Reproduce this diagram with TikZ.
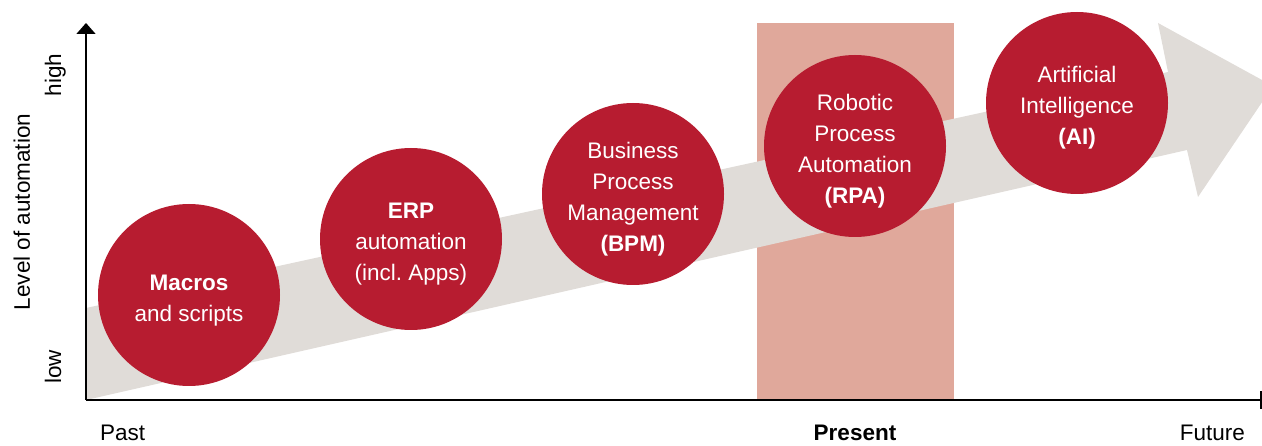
\documentclass[tikz,border=0pt]{standalone}
\usepackage{fontspec}
\setmainfont{Liberation Sans}
\usepackage{xcolor}
\usepackage{tikz}
\usetikzlibrary{arrows.meta}
\definecolor{stagered}{HTML}{B71C30}
\definecolor{trendgray}{HTML}{E0DCD8}
\definecolor{presentpink}{HTML}{E0A89B}
\newcommand{\stagestrut}{\rule{0pt}{26.5pt}}

\begin{document}
\begin{tikzpicture}[
x=1pt, y=-1pt,
stage/.style={circle, fill=stagered, text=white, minimum size=182pt, inner sep=0pt, align=center, font=\fontsize{22.5pt}{31pt}\selectfont},
axislabel/.style={inner sep=0pt, font=\fontsize{22.5pt}{27pt}\selectfont},
axis/.style={line width=1.6pt}
]
\clip (0,0) rectangle (1262,446);

\fill[presentpink] (757,23) rectangle (954,400);
\fill[trendgray] (86,400) -- (1187,150) -- (1198,197) -- (1273,86) -- (1158,23) -- (1168,72) -- (86,308) -- cycle;

\coordinate (origin) at (86,400);
\coordinate (yend) at (86,23);
\coordinate (xend) at (1261,400);
\draw[axis] (origin) -- (xend);
\draw[axis] ([yshift=9pt]xend) -- ([yshift=-9pt]xend);
\draw[axis, -{Triangle[width=19pt,length=11pt]}] (origin) -- (yend);

\node[stage] (macros) at (189,295) {\stagestrut\textbf{Macros}\\and scripts};
\node[stage] (erp) at (411,239) {\stagestrut\textbf{ERP}\\automation\\(incl.\ Apps)};
\node[stage] (bpm) at (633,194) {\stagestrut Business\\Process\\Management\\\textbf{(BPM)}};
\node[stage] (rpa) at (855,146) {\stagestrut Robotic\\Process\\Automation\\\textbf{(RPA)}};
\node[stage] (ai) at (1077,103) {\stagestrut Artificial\\Intelligence\\\textbf{(AI)}};

\node[axislabel, anchor=base west] (past) at (100,441) {Past};
\node[axislabel, anchor=base] (present) at (855,441) {\textbf{Present}};
\node[axislabel, anchor=base east] (future) at (1245,441) {Future};
\node[axislabel, rotate=90, anchor=base] (high) at (61,75) {high};
\node[axislabel, rotate=90, anchor=base] (low) at (61,367) {low};
\node[axislabel, rotate=90, anchor=base] (level) at (30,212) {Level of automation};
\end{tikzpicture}
\end{document}
